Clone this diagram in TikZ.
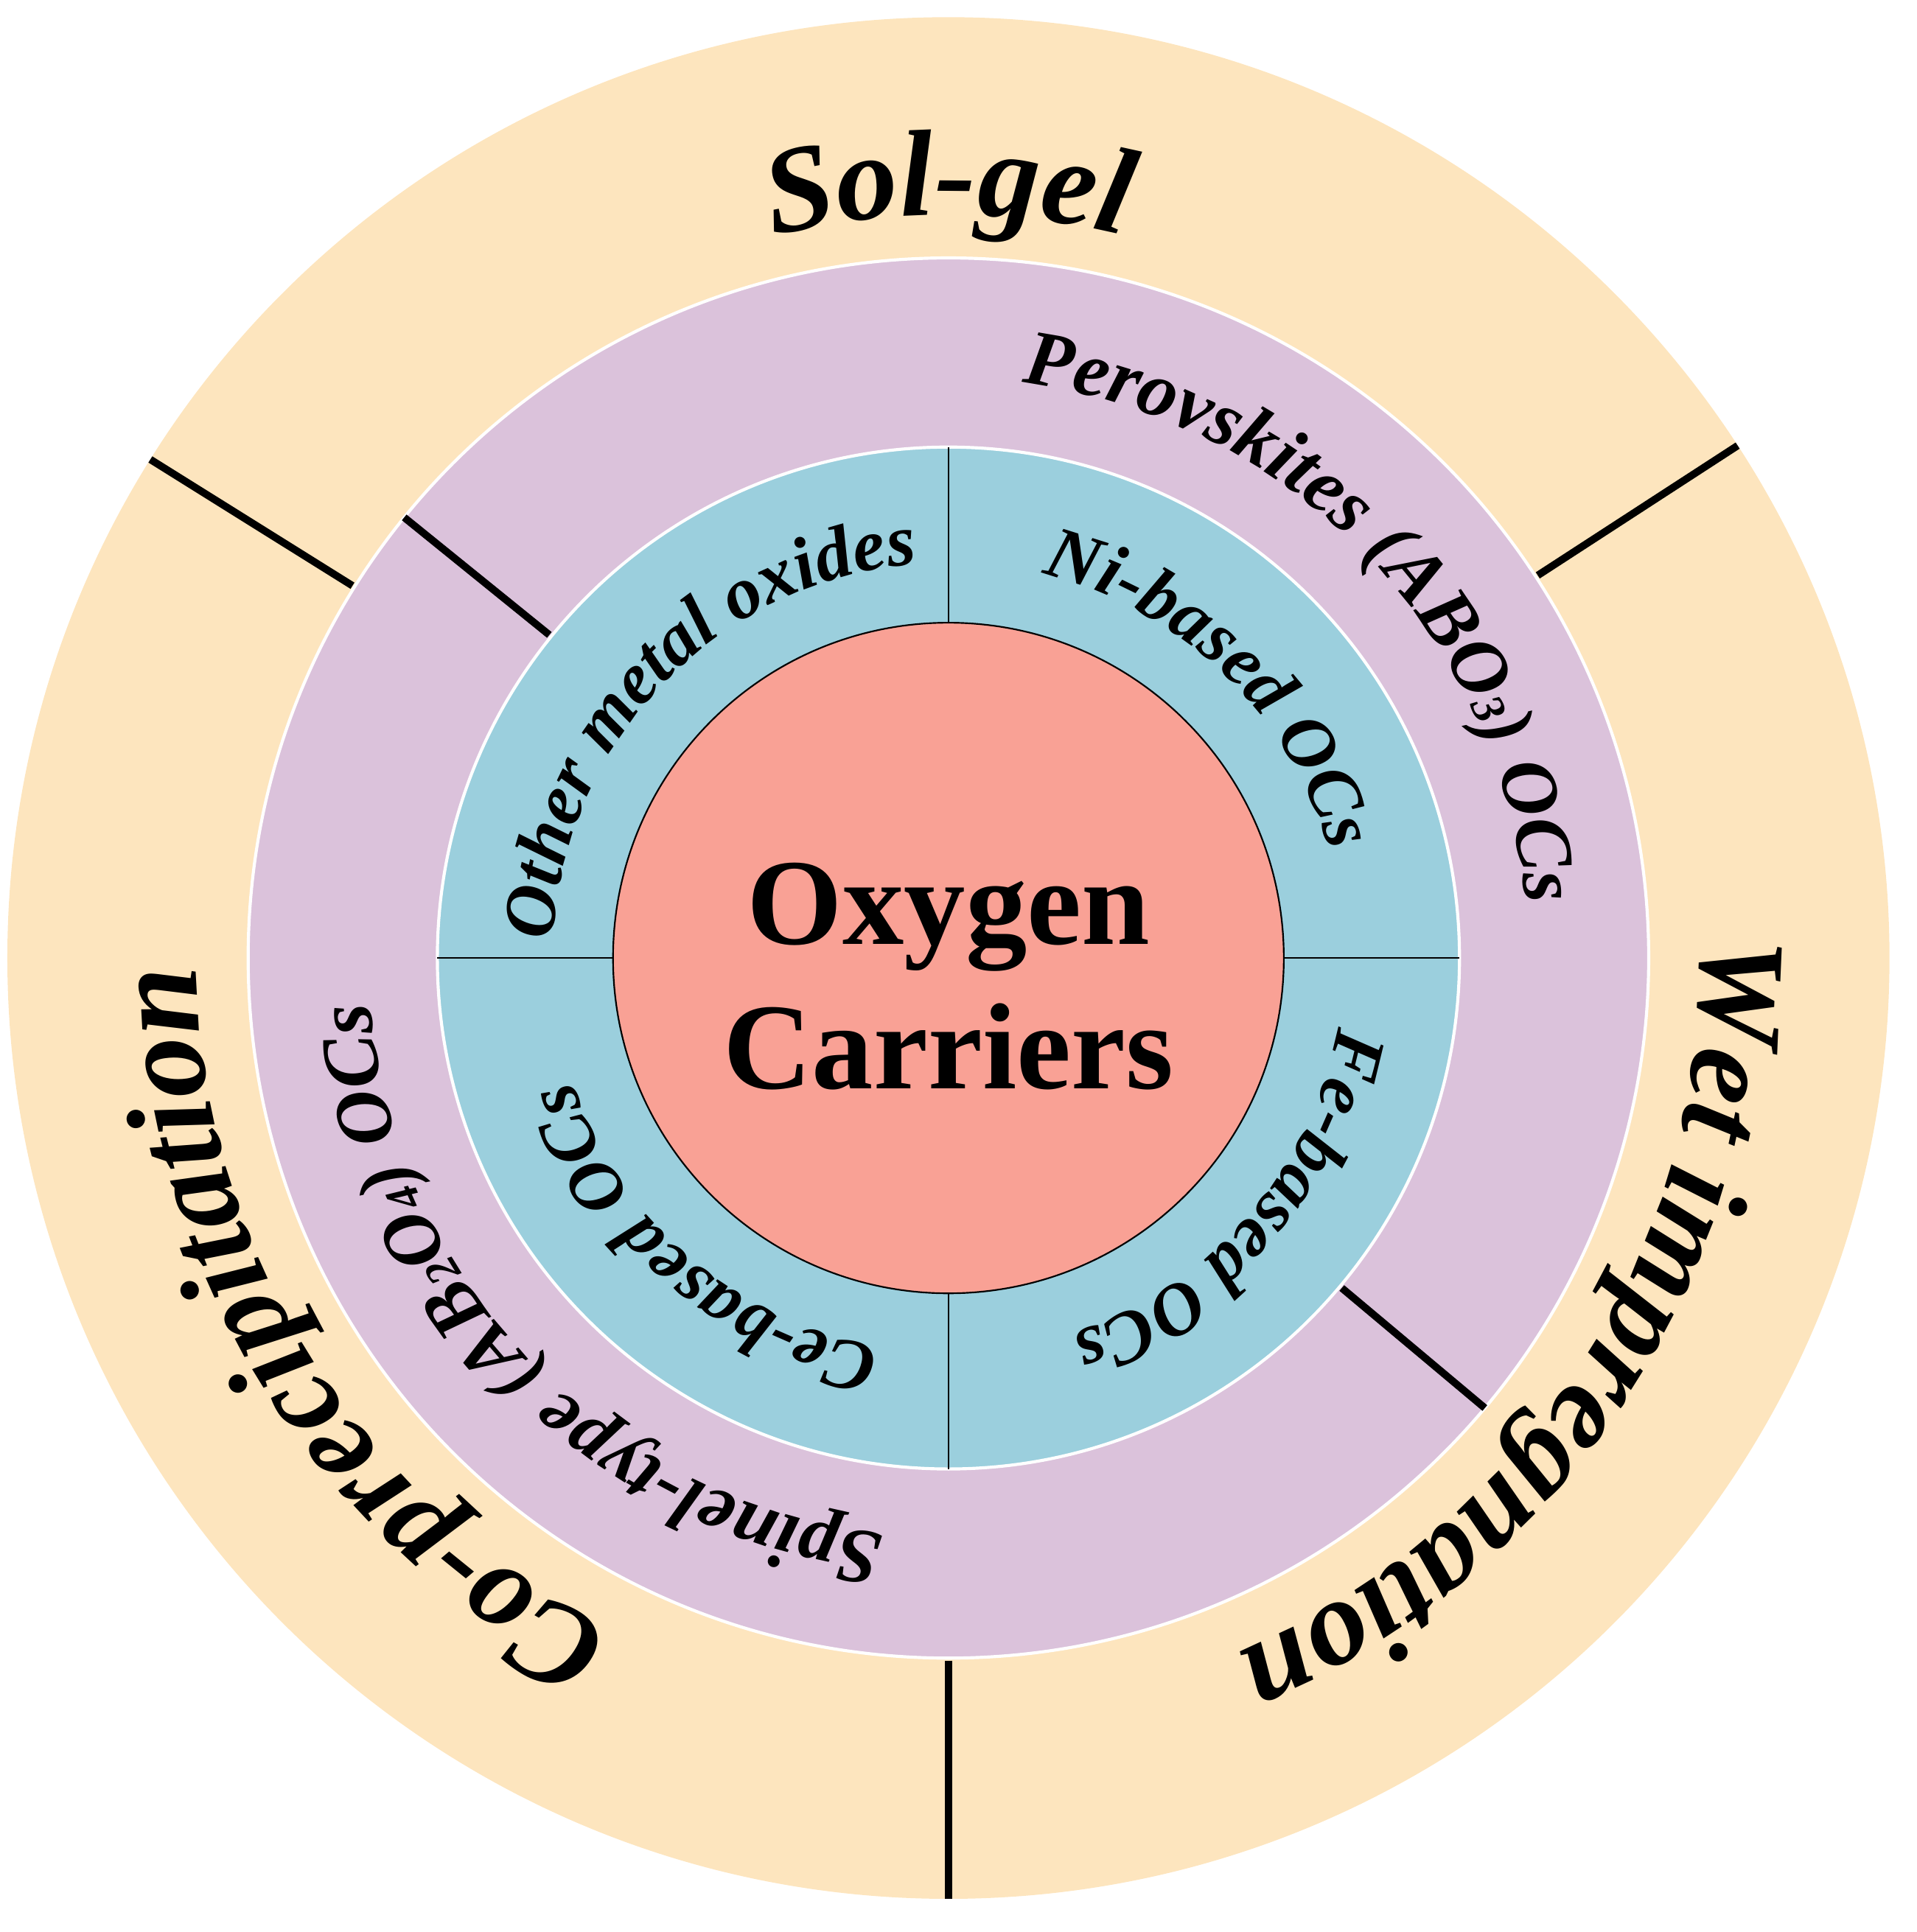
\documentclass[tikz,border=0pt]{standalone}
\usepackage{fontspec}
\setmainfont{Liberation Serif}
\usetikzlibrary{decorations.text,calc}
\definecolor{peach}{HTML}{FDE5BE}
\definecolor{lilac}{HTML}{DBC2DB}
\definecolor{teal2}{HTML}{9BCFDD}
\definecolor{salmon}{HTML}{F9A195}
\newcommand{\arctext}[5]{% r, center angle, half span, font size, text
  \path[decorate,decoration={text along path,text align=center,
    text={|\fontsize{#4}{#4}\selectfont\bfseries\itshape|#5}}]
    ($(c)+({#2+#3}:#1)$) arc[start angle={#2+#3},end angle={#2-#3},radius=#1];}
\begin{document}
\begin{tikzpicture}[x=1pt,y=1pt,
  sep/.style={line width=6pt,black},
  thin sep/.style={line width=1.3pt,black}]
\useasboundingbox (-772,-793) rectangle (788,780);
\coordinate (c) at (0,0);
\fill[peach] (c) circle (766);
\filldraw[fill=lilac,draw=white,line width=2.5pt] (c) circle (570);
\filldraw[fill=teal2,draw=white,line width=2.5pt] (c) circle (416);
\foreach \a in {33,148,270} \draw[sep] (\a:572) -- (\a:766);
\foreach \a in {141,-40} \draw[sep] (\a:418) -- (\a:570);
\foreach \a in {0,90,180,270} \draw[thin sep] (\a:273) -- (\a:416);
\filldraw[fill=salmon,draw=black,line width=1.3pt] (c) circle (273);
\node[font=\fontsize{100}{118}\selectfont\bfseries,align=center] (oc) at (0,-15) {Oxygen\\Carriers};
\arctext{605}{90}{60}{100}{Sol-gel}
\arctext{612}{-33}{70}{100}{Wet impregnation}
\arctext{612}{212}{70}{100}{Co-precipitation}
\arctext{472}{44}{70}{64}{Perovskites (ABO|\fontsize{38}{38}\selectfont\bfseries\itshape|3|\fontsize{64}{64}\selectfont\bfseries\itshape|) OCs}
\arctext{472}{224}{70}{64}{Spinel-type (AB|\fontsize{38}{38}\selectfont\bfseries\itshape|2|\fontsize{64}{64}\selectfont\bfseries\itshape|O|\fontsize{38}{38}\selectfont\bfseries\itshape|4|\fontsize{64}{64}\selectfont\bfseries\itshape|) OCs}
\arctext{322}{46}{60}{60}{Ni-based OCs}
\arctext{322}{136}{60}{60}{Other metal oxides}
\arctext{322}{-41}{60}{60}{Fe-based OCs}
\arctext{322}{229}{60}{60}{Ce-based OCs}
\end{tikzpicture}
\end{document}
